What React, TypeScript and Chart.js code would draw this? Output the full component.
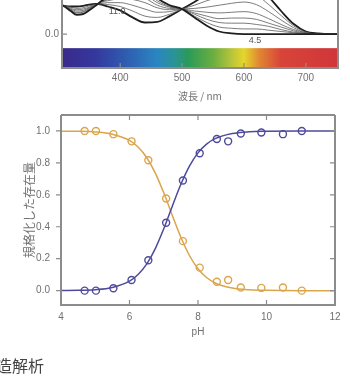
import React, { useEffect, useRef } from "react";
import { Chart, registerables } from "chart.js";

Chart.register(...registerables);

// ---------- Top panel: absorption spectra ----------
const WAVELENGTHS = [300, 310, 320, 330, 340, 350, 360, 370, 380, 400, 420, 440, 460, 480, 500, 520, 540, 560, 580, 600, 620, 640, 660, 680, 700, 720, 740, 760];
const SPEC_PH45 = [0.48, 0.43, 0.36, 0.30, 0.31, 0.37, 0.44, 0.52, 0.58, 0.68, 0.74, 0.72, 0.56, 0.45, 0.39, 0.26, 0.13, 0.04, 0.01, 0, 0, 0, 0, 0, 0, 0, 0, 0];
const SPEC_2 = [0.48, 0.43, 0.37, 0.31, 0.32, 0.38, 0.44, 0.51, 0.57, 0.65, 0.69, 0.67, 0.52, 0.43, 0.39, 0.28, 0.18, 0.11, 0.09, 0.08, 0.08, 0.06, 0.04, 0.02, 0, 0, 0, 0];
const SPEC_3 = [0.48, 0.43, 0.37, 0.33, 0.34, 0.39, 0.45, 0.51, 0.55, 0.62, 0.64, 0.61, 0.49, 0.42, 0.39, 0.31, 0.23, 0.18, 0.17, 0.17, 0.15, 0.12, 0.07, 0.03, 0.01, 0, 0, 0];
const SPEC_4 = [0.47, 0.43, 0.38, 0.34, 0.35, 0.40, 0.45, 0.50, 0.54, 0.59, 0.60, 0.56, 0.45, 0.40, 0.39, 0.33, 0.28, 0.24, 0.25, 0.25, 0.23, 0.17, 0.11, 0.05, 0.01, 0, 0, 0];
const SPEC_5 = [0.47, 0.43, 0.39, 0.36, 0.37, 0.41, 0.45, 0.50, 0.52, 0.55, 0.54, 0.49, 0.41, 0.38, 0.39, 0.36, 0.34, 0.33, 0.34, 0.35, 0.32, 0.24, 0.15, 0.07, 0.02, 0, 0, 0];
const SPEC_6 = [0.47, 0.44, 0.40, 0.38, 0.39, 0.42, 0.46, 0.48, 0.49, 0.49, 0.45, 0.39, 0.34, 0.35, 0.39, 0.40, 0.42, 0.45, 0.48, 0.50, 0.46, 0.35, 0.22, 0.10, 0.02, 0, 0, 0];
const SPEC_7 = [0.46, 0.44, 0.42, 0.40, 0.41, 0.44, 0.46, 0.47, 0.46, 0.43, 0.36, 0.28, 0.26, 0.31, 0.39, 0.45, 0.52, 0.58, 0.64, 0.66, 0.61, 0.46, 0.29, 0.13, 0.03, 0, 0, 0];
const SPEC_PH110 = [0.46, 0.44, 0.43, 0.43, 0.44, 0.46, 0.47, 0.46, 0.43, 0.37, 0.26, 0.18, 0.19, 0.28, 0.39, 0.50, 0.62, 0.72, 0.80, 0.83, 0.76, 0.58, 0.36, 0.16, 0.04, 0.01, 0, 0];
const SPEC_SERIES = [SPEC_PH45, SPEC_2, SPEC_3, SPEC_4, SPEC_5, SPEC_6, SPEC_7, SPEC_PH110];
const SPEC_THICK = [true, false, false, false, false, false, false, true];
const NM_TICKS = [400, 500, 600, 700];
const ABS_TICKS = [0];
const SPEC_LABEL_TEXT = ["4.5", "11.0"];
const SPEC_LABEL_NM = [618, 395];
const SPEC_LABEL_ABS = [-0.105, 0.35];
const COLORBAR_NM = [306, 360, 410, 460, 490, 510, 550, 580, 600, 625, 660, 752];
const COLORBAR_COLORS = ["#3a2a8a", "#34389e", "#2f5db0", "#2a86c2", "#2a9490", "#2a9a58", "#6aae40", "#b8c43a", "#e4d62c", "#e08632", "#d8443a", "#d0363a"];
const COLORBAR_TOP_ABS = -0.22;

// ---------- Bottom panel: species fractions vs pH ----------
const PH_POINTS = [4.69, 5.02, 5.53, 6.06, 6.55, 7.07, 7.56, 8.05, 8.55, 8.88, 9.25, 9.85, 10.48, 11.03];
const FRAC_BASIC = [0, 0, 0.015, 0.067, 0.19, 0.425, 0.69, 0.86, 0.95, 0.935, 0.984, 0.99, 0.98, 1.0];
const FRAC_ACIDIC = [1.0, 1.0, 0.98, 0.935, 0.817, 0.577, 0.31, 0.144, 0.056, 0.067, 0.02, 0.017, 0.02, 0.0];
const PH_CURVE = [4, 4.5, 5, 5.5, 6, 6.25, 6.5, 6.75, 7, 7.25, 7.5, 7.75, 8, 8.25, 8.5, 9, 9.5, 10, 11, 12];
const FIT_BASIC = [0.001, 0.002, 0.006, 0.02, 0.059, 0.101, 0.166, 0.262, 0.387, 0.529, 0.666, 0.78, 0.863, 0.918, 0.952, 0.984, 0.995, 0.998, 1, 1];
const FIT_ACIDIC = [0.999, 0.998, 0.994, 0.98, 0.941, 0.899, 0.834, 0.738, 0.613, 0.471, 0.334, 0.22, 0.137, 0.082, 0.048, 0.016, 0.005, 0.002, 0, 0];
const FRAC_TICKS = [0, 0.2, 0.4, 0.6, 0.8, 1.0];
const PH_TICKS = [4, 6, 8, 10, 12];

const BLUE = "#4d4a9c";
const ORANGE = "#dba54c";
const FRAME = "#8c8c8c";
const TEXT = "#707070";
const FONT = "'Liberation Sans', Arial, sans-serif";
const CJK = "'Noto Sans CJK JP', 'Noto Sans CJK SC', sans-serif";

const framePlugin = {
  id: "frameTicks",
  afterDatasetsDraw(chart: any, _args: any, opts: any) {
    const { ctx, chartArea: a, scales } = chart;
    const xs = scales.x;
    const ys = scales.y;
    const len = opts.len || 5;
    ctx.save();
    ctx.strokeStyle = opts.color || FRAME;
    ctx.lineWidth = 1.2;
    ctx.beginPath();
    xs.ticks.forEach((t: any) => {
      const px = xs.getPixelForValue(t.value);
      if (px <= a.left + 1 || px >= a.right - 1) return;
      if (opts.xBottom) {
        ctx.moveTo(px, a.bottom);
        ctx.lineTo(px, a.bottom - len);
      }
      if (opts.xTop) {
        ctx.moveTo(px, a.top);
        ctx.lineTo(px, a.top + len);
      }
    });
    ys.ticks.forEach((t: any) => {
      const py = ys.getPixelForValue(t.value);
      if (opts.yLeftOut) {
        ctx.moveTo(a.left, py);
        ctx.lineTo(a.left - len, py);
      }
      if (opts.yLeftIn) {
        ctx.moveTo(a.left, py);
        ctx.lineTo(a.left + len, py);
      }
      if (opts.yRightIn && py > a.top + 2 && py < a.bottom - 2) {
        ctx.moveTo(a.right, py);
        ctx.lineTo(a.right - len, py);
      }
    });
    ctx.stroke();
    ctx.lineWidth = 2;
    ctx.beginPath();
    if (opts.top) {
      ctx.moveTo(a.left, a.top);
      ctx.lineTo(a.right, a.top);
    }
    ctx.moveTo(a.left, a.top);
    ctx.lineTo(a.left, a.bottom);
    ctx.lineTo(a.right, a.bottom);
    ctx.lineTo(a.right, a.top);
    ctx.stroke();
    ctx.restore();
  },
};

const colorbarPlugin = {
  id: "colorbar",
  beforeDatasetsDraw(chart: any) {
    const { ctx, chartArea: a, scales } = chart;
    const xs = scales.x;
    const ys = scales.y;
    const y0 = ys.getPixelForValue(COLORBAR_TOP_ABS);
    const grad = ctx.createLinearGradient(a.left, 0, a.right, 0);
    COLORBAR_NM.forEach((nm, i) => {
      const px = xs.getPixelForValue(nm);
      const off = Math.min(1, Math.max(0, (px - a.left) / (a.right - a.left)));
      grad.addColorStop(off, COLORBAR_COLORS[i]);
    });
    ctx.save();
    ctx.fillStyle = grad;
    ctx.fillRect(a.left, y0, a.right - a.left, a.bottom - y0);
    ctx.restore();
  },
  afterDatasetsDraw(chart: any) {
    const { ctx, scales } = chart;
    ctx.save();
    ctx.fillStyle = "#555";
    ctx.font = `9px ${FONT}`;
    ctx.textAlign = "center";
    ctx.textBaseline = "middle";
    SPEC_LABEL_TEXT.forEach((txt, i) => {
      ctx.fillText(txt, scales.x.getPixelForValue(SPEC_LABEL_NM[i]), scales.y.getPixelForValue(SPEC_LABEL_ABS[i]));
    });
    ctx.restore();
  },
};

function SpectraChart() {
  const ref = useRef<HTMLCanvasElement>(null);
  useEffect(() => {
    const chart = new Chart(ref.current!, {
      type: "line",
      data: {
        datasets: SPEC_SERIES.map((s, k) => ({
          data: WAVELENGTHS.map((nm, i) => ({ x: nm, y: s[i] })),
          borderColor: SPEC_THICK[k] ? "#1e1e1e" : "#5a5a5a",
          borderWidth: SPEC_THICK[k] ? 1.8 : 0.8,
          pointRadius: 0,
          cubicInterpolationMode: "monotone" as const,
          fill: false,
        })),
      },
      options: {
        responsive: false,
        animation: false,
        events: [],
        layout: { padding: { left: 0, right: 12, top: 0, bottom: 0 } },
        plugins: { legend: { display: false }, tooltip: { enabled: false }, frameTicks: { xBottom: true, yLeftIn: true, len: 5 } } as any,
        scales: {
          x: {
            type: "linear",
            min: 306,
            max: 752,
            grid: { display: false, drawTicks: false },
            border: { display: false },
            afterBuildTicks: (s: any) => { s.ticks = NM_TICKS.map((v) => ({ value: v })); },
            afterFit: (s: any) => { s.height = 42; },
            ticks: { color: TEXT, font: { family: FONT, size: 10 }, padding: 4 },
            title: { display: true, text: "波長 / nm", color: TEXT, font: { family: CJK, size: 10 }, padding: { top: 0, bottom: 8 } },
          },
          y: {
            type: "linear",
            min: -0.53,
            max: 1.0,
            grid: { display: false, drawTicks: false },
            border: { display: false },
            afterBuildTicks: (s: any) => { s.ticks = ABS_TICKS.map((v) => ({ value: v })); },
            afterFit: (s: any) => { s.width = 62; },
            ticks: { color: TEXT, font: { family: FONT, size: 10 }, padding: 3, callback: (v: any) => Number(v).toFixed(1) },
          },
        },
      },
      plugins: [colorbarPlugin, framePlugin],
    });
    return () => chart.destroy();
  }, []);
  return <canvas ref={ref} width={350} height={149} style={{ position: "absolute", left: 0, top: -39 }} />;
}

function FractionChart() {
  const ref = useRef<HTMLCanvasElement>(null);
  useEffect(() => {
    const chart = new Chart(ref.current!, {
      type: "line",
      data: {
        datasets: [
          {
            data: PH_CURVE.map((x, i) => ({ x, y: FIT_BASIC[i] })),
            borderColor: BLUE,
            borderWidth: 1.5,
            pointRadius: 0,
            cubicInterpolationMode: "monotone" as const,
          },
          {
            data: PH_CURVE.map((x, i) => ({ x, y: FIT_ACIDIC[i] })),
            borderColor: ORANGE,
            borderWidth: 1.5,
            pointRadius: 0,
            cubicInterpolationMode: "monotone" as const,
          },
          {
            data: PH_POINTS.map((x, i) => ({ x, y: FRAC_BASIC[i] })),
            showLine: false,
            pointRadius: 3.5,
            pointBorderWidth: 1.4,
            pointBorderColor: BLUE,
            pointBackgroundColor: "rgba(0,0,0,0)",
          },
          {
            data: PH_POINTS.map((x, i) => ({ x, y: FRAC_ACIDIC[i] })),
            showLine: false,
            pointRadius: 3.5,
            pointBorderWidth: 1.4,
            pointBorderColor: ORANGE,
            pointBackgroundColor: "rgba(0,0,0,0)",
          },
        ],
      },
      options: {
        responsive: false,
        animation: false,
        events: [],
        layout: { padding: { left: 0, right: 15, top: 10, bottom: 0 } },
        plugins: { legend: { display: false }, tooltip: { enabled: false }, frameTicks: { xBottom: true, xTop: true, yLeftOut: true, yRightIn: true, top: true, len: 5 } } as any,
        scales: {
          x: {
            type: "linear",
            min: 4,
            max: 12,
            grid: { display: false, drawTicks: false },
            border: { display: false },
            afterBuildTicks: (s: any) => { s.ticks = PH_TICKS.map((v) => ({ value: v })); },
            afterFit: (s: any) => { s.height = 45; },
            ticks: { color: TEXT, font: { family: FONT, size: 10 }, padding: 6 },
            title: { display: true, text: "pH", color: TEXT, font: { family: FONT, size: 10 }, padding: { top: 0, bottom: 12 } },
          },
          y: {
            type: "linear",
            min: -0.09,
            max: 1.1,
            grid: { display: true, drawOnChartArea: false, drawTicks: true, tickLength: 8, color: "rgba(0,0,0,0)" },
            border: { display: false },
            afterBuildTicks: (s: any) => { s.ticks = FRAC_TICKS.map((v) => ({ value: v })); },
            afterFit: (s: any) => { s.width = 61; },
            ticks: { color: TEXT, font: { family: FONT, size: 10 }, padding: 3, callback: (v: any) => Number(v).toFixed(1) },
            title: { display: true, text: "規格化した存在量", color: TEXT, font: { family: CJK, size: 12 }, padding: { top: 22, bottom: 0 } },
          },
        },
      },
      plugins: [framePlugin],
    });
    return () => chart.destroy();
  }, []);
  return <canvas ref={ref} width={350} height={245} style={{ position: "absolute", left: 0, top: 105 }} />;
}

export default function App() {
  return (
    <div style={{ position: "relative", width: 350, height: 381, overflow: "hidden", background: "#fff" }}>
      <style>{"body{margin:0;}"}</style>
      <SpectraChart />
      <FractionChart />
      <div
        style={{
          position: "absolute",
          left: -4,
          top: 355,
          fontFamily: CJK,
          fontSize: 16,
          lineHeight: "20px",
          color: "#444",
          whiteSpace: "nowrap",
        }}
      >
        造解析
      </div>
    </div>
  );
}
